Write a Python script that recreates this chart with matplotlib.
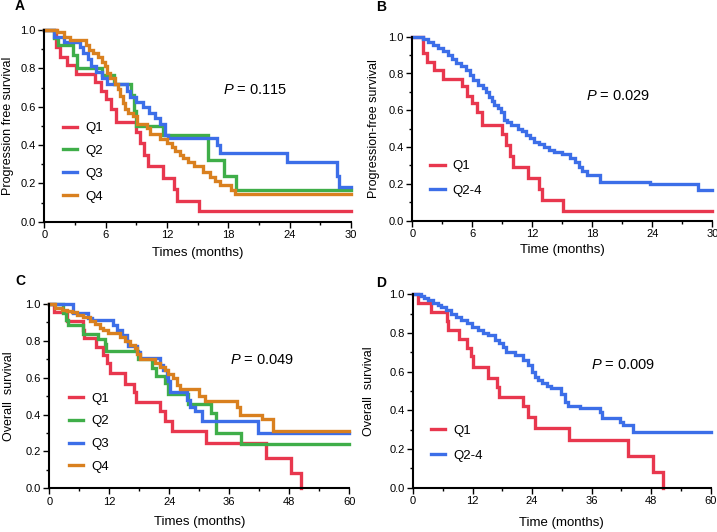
import matplotlib
matplotlib.use('Agg')
import matplotlib.pyplot as plt
from matplotlib.ticker import MultipleLocator, FormatStrFormatter

plt.rcParams['font.family'] = ['Liberation Sans', 'DejaVu Sans']
plt.rcParams['mathtext.fontset'] = 'custom'
plt.rcParams['mathtext.rm'] = 'Liberation Sans'
plt.rcParams['mathtext.it'] = 'Liberation Sans:italic'

# colours
RED = '#e8374e'
GREEN = '#3fae49'
BLUE = '#3c6ee8'
ORANGE = '#d9801f'

# ---- progression free survival (months, survival) ----
pfs_q1_t = [1.1, 1.5, 2.2, 3.1, 5.0, 5.5, 6.0, 6.5, 7.0, 9.0, 9.4, 9.8, 10.1, 11.6, 12.7, 13.0, 15.1]
pfs_q1_s = [0.91, 0.86, 0.82, 0.77, 0.73, 0.68, 0.64, 0.59, 0.52, 0.47, 0.41, 0.35, 0.29, 0.23, 0.17, 0.11, 0.055]

pfs_q2_t = [0.9, 1.3, 2.8, 3.2, 5.6, 6.8, 8.5, 8.8, 9.0, 11.6, 16.0, 17.6, 18.8]
pfs_q2_s = [0.96, 0.92, 0.87, 0.80, 0.765, 0.72, 0.66, 0.58, 0.50, 0.45, 0.32, 0.24, 0.165]

pfs_q3_t = [0.9, 1.9, 3.5, 3.8, 4.3, 4.6, 5.1, 5.6, 6.1, 8.05, 8.4, 9.0, 9.7, 10.2, 10.8,
            11.3, 11.8, 12.1, 16.9, 17.2, 23.7, 28.6, 28.8]
pfs_q3_s = [0.965, 0.94, 0.91, 0.88, 0.85, 0.81, 0.78, 0.75, 0.72, 0.68, 0.65, 0.625, 0.60, 0.565, 0.54,
            0.51, 0.45, 0.435, 0.40, 0.36, 0.31, 0.24, 0.18]

pfs_q4_t = [1.2, 1.9, 2.5, 4.1, 4.4, 4.8, 5.3, 5.6, 5.9, 6.1, 6.4, 6.9, 7.2, 7.4, 7.7, 7.9, 8.2, 8.7,
            9.1, 10.0, 10.3, 11.3, 12.0, 12.5, 12.8, 13.3, 13.6, 14.1, 14.6, 15.5, 16.2, 16.7, 17.2,
            18.3, 18.7]
pfs_q4_s = [0.99, 0.965, 0.95, 0.92, 0.895, 0.88, 0.86, 0.835, 0.81, 0.775, 0.75, 0.72, 0.69, 0.655,
            0.62, 0.59, 0.565, 0.55, 0.51, 0.49, 0.46, 0.43, 0.41, 0.39, 0.37, 0.35, 0.33, 0.31, 0.29,
            0.26, 0.235, 0.21, 0.19, 0.165, 0.143]

pfs_q24_t = [1.1, 1.6, 2.1, 2.6, 3.1, 3.6, 4.0, 4.4, 4.9, 5.4, 5.8, 6.1, 6.6, 7.1, 7.4, 7.7, 8.0,
             8.2, 8.6, 8.9, 9.2, 9.5, 9.9, 10.6, 11.0, 11.4, 11.8, 12.2, 12.7, 13.2, 13.7, 14.2,
             15.0, 15.8, 16.3, 16.7, 17.0, 17.5, 18.8, 23.8, 28.6]
pfs_q24_s = [0.99, 0.973, 0.955, 0.937, 0.92, 0.90, 0.88, 0.855, 0.84, 0.82, 0.79, 0.765, 0.74,
             0.72, 0.70, 0.674, 0.65, 0.63, 0.61, 0.59, 0.547, 0.535, 0.52, 0.50, 0.485, 0.466,
             0.45, 0.43, 0.415, 0.40, 0.385, 0.375, 0.36, 0.34, 0.32, 0.29, 0.27, 0.25, 0.21,
             0.198, 0.167]

# ---- overall survival ----
os_q1_t = [1.0, 3.6, 6.8, 7.0, 9.3, 10.8, 11.6, 12.1, 15.1, 16.9, 17.4, 22.2, 23.2, 24.5,
           31.4, 43.4, 48.3, 50.3]
os_q1_s = [0.955, 0.907, 0.86, 0.815, 0.767, 0.722, 0.68, 0.625, 0.567, 0.52, 0.47, 0.42,
           0.365, 0.31, 0.246, 0.163, 0.083, 0.0]

os_q2_t = [2.8, 3.3, 3.8, 6.8, 9.8, 11.1, 11.4, 17.8, 20.5, 21.3, 23.1, 23.8, 27.8, 32.3,
           33.3, 38.4]
os_q2_s = [0.95, 0.915, 0.885, 0.835, 0.81, 0.785, 0.743, 0.70, 0.655, 0.61, 0.57, 0.51,
           0.455, 0.41, 0.30, 0.242]

os_q3_t = [4.8, 7.8, 8.5, 12.8, 13.5, 14.5, 15.5, 15.8, 17.5, 18.1, 22.1, 22.8, 23.5, 23.8,
           24.1, 27.5, 28.1, 29.1, 30.5, 41.8]
os_q3_s = [0.95, 0.926, 0.913, 0.886, 0.86, 0.83, 0.80, 0.77, 0.74, 0.705, 0.67, 0.64, 0.605,
           0.58, 0.525, 0.48, 0.44, 0.42, 0.364, 0.30]

os_q4_t = [1.1, 2.5, 3.5, 4.5, 5.5, 6.8, 8.1, 9.1, 10.1, 10.8, 11.8, 13.1, 14.1, 15.1, 16.1,
           17.1, 17.5, 18.1, 21.1, 22.1, 23.1, 23.8, 24.8, 25.5, 26.1, 30.0, 31.1, 37.5, 38.1,
           42.5, 44.8]
os_q4_s = [0.98, 0.97, 0.96, 0.955, 0.94, 0.93, 0.91, 0.89, 0.87, 0.86, 0.845, 0.84, 0.82,
           0.80, 0.78, 0.76, 0.73, 0.70, 0.68, 0.66, 0.64, 0.62, 0.60, 0.56, 0.54, 0.50, 0.476,
           0.44, 0.40, 0.376, 0.31]

os_q24_t = [1.7, 2.3, 3.0, 4.0, 5.0, 5.7, 6.7, 7.7, 8.7, 9.7, 10.8, 11.8, 13.1, 14.1, 15.1,
            16.5, 17.3, 18.1, 18.8, 20.5, 22.2, 23.2, 23.9, 24.5, 25.2, 25.9, 27.0, 27.9, 29.9,
            30.6, 31.3, 33.7, 37.7, 38.0, 41.7, 42.4, 44.4]
os_q24_s = [0.99, 0.98, 0.97, 0.955, 0.945, 0.936, 0.92, 0.90, 0.885, 0.867, 0.85, 0.83, 0.815,
            0.80, 0.79, 0.764, 0.75, 0.73, 0.70, 0.686, 0.66, 0.634, 0.60, 0.57, 0.555, 0.54,
            0.525, 0.514, 0.485, 0.445, 0.42, 0.41, 0.39, 0.36, 0.34, 0.325, 0.29]


def km(ax, t, s, color, label, end):
    xs = [0] + list(t)
    ys = [1.0] + list(s)
    if end is not None:
        xs.append(end)
        ys.append(ys[-1])
    ax.step(xs, ys, where='post', color=color, lw=2.4, label=label,
            clip_on=False, solid_joinstyle='miter')


def style(ax, xmax, xlabel, ylabel, ylab_x, xlab_y):
    ax.set_xlim(0, xmax)
    ax.set_ylim(0, 1.0)
    for side in ['top', 'right']:
        ax.spines[side].set_visible(False)
    for side in ['left', 'bottom']:
        ax.spines[side].set_linewidth(1.5)
    ax.xaxis.set_major_locator(MultipleLocator(xmax / 5))
    ax.xaxis.set_minor_locator(MultipleLocator(xmax / 10))
    ax.yaxis.set_major_locator(MultipleLocator(0.2))
    ax.yaxis.set_minor_locator(MultipleLocator(0.1))
    ax.yaxis.set_major_formatter(FormatStrFormatter('%.1f'))
    ax.xaxis.set_major_formatter(FormatStrFormatter('%d'))
    ax.tick_params(which='major', direction='out', length=4, width=1, labelsize=8, pad=2)
    ax.tick_params(which='minor', direction='out', length=2.5, width=1)
    ax.set_xlabel(xlabel, fontsize=9.5)
    ax.set_ylabel(ylabel, fontsize=9)
    ax.yaxis.set_label_coords(ylab_x, 0.5)
    ax.xaxis.set_label_coords(0.5, xlab_y)


def legend(ax, x, y, spacing):
    ax.legend(loc='upper left', bbox_to_anchor=(x, y), frameon=False, fontsize=9.5,
              handlelength=1.1, handletextpad=0.6, labelspacing=spacing,
              borderpad=0, borderaxespad=0)


W, H = 717, 532
fig = plt.figure(figsize=(W / 100, H / 100), dpi=100)


def axes_px(l, r, b, t):
    return fig.add_axes([l / W, 1 - b / H, (r - l) / W, (b - t) / H])


axA = axes_px(44.3, 351, 221.7, 30)
axB = axes_px(412.3, 712.3, 220.7, 36.7)
axC = axes_px(49.3, 349.3, 488.3, 304)
axD = axes_px(413, 710.7, 487.7, 294.3)

# A
km(axA, pfs_q1_t, pfs_q1_s, RED, 'Q1', 30)
km(axA, pfs_q2_t, pfs_q2_s, GREEN, 'Q2', 30)
km(axA, pfs_q3_t, pfs_q3_s, BLUE, 'Q3', 30)
km(axA, pfs_q4_t, pfs_q4_s, ORANGE, 'Q4', 30)
style(axA, 30, 'Times (months)', 'Progression free survival', -0.098, -0.13)
legend(axA, 0.06, 0.52, 0.8)
axA.text(0.686, 0.687, r'$\it{P}$ = 0.115', transform=axA.transAxes, fontsize=10.5,
         ha='center', va='center')

# B
km(axB, pfs_q1_t, pfs_q1_s, RED, 'Q1', 30)
km(axB, pfs_q24_t, pfs_q24_s, BLUE, 'Q2-4', 30)
style(axB, 30, 'Time (months)', 'Progression-free survival', -0.107, -0.125)
legend(axB, 0.06, 0.33, 0.95)
axB.text(0.686, 0.678, r'$\it{P}$ = 0.029', transform=axB.transAxes, fontsize=10.5,
         ha='center', va='center')

# C
km(axC, os_q1_t, os_q1_s, RED, 'Q1', None)
km(axC, os_q2_t, os_q2_s, GREEN, 'Q2', 60)
km(axC, os_q3_t, os_q3_s, BLUE, 'Q3', 60)
km(axC, os_q4_t, os_q4_s, ORANGE, 'Q4', 60)
style(axC, 60, 'Times (months)', 'Overall  survival', -0.114, -0.152)
legend(axC, 0.065, 0.52, 0.8)
axC.text(0.709, 0.696, r'$\it{P}$ = 0.049', transform=axC.transAxes, fontsize=10.5,
         ha='center', va='center')

# D
km(axD, os_q1_t, os_q1_s, RED, 'Q1', None)
km(axD, os_q24_t, os_q24_s, BLUE, 'Q2-4', 60)
style(axD, 60, 'Time (months)', 'Overall  survival', -0.127, -0.15)
legend(axD, 0.06, 0.325, 0.95)
axD.text(0.705, 0.634, r'$\it{P}$ = 0.009', transform=axD.transAxes, fontsize=10.5,
         ha='center', va='center')

# panel letters
for letter, px, py in [('A', 20, 6), ('B', 381, 7), ('C', 20, 281), ('D', 381, 283)]:
    fig.text(px / W, 1 - py / H, letter, fontsize=10, fontweight='bold', ha='center', va='center')

fig.savefig('out.png', dpi=100)
